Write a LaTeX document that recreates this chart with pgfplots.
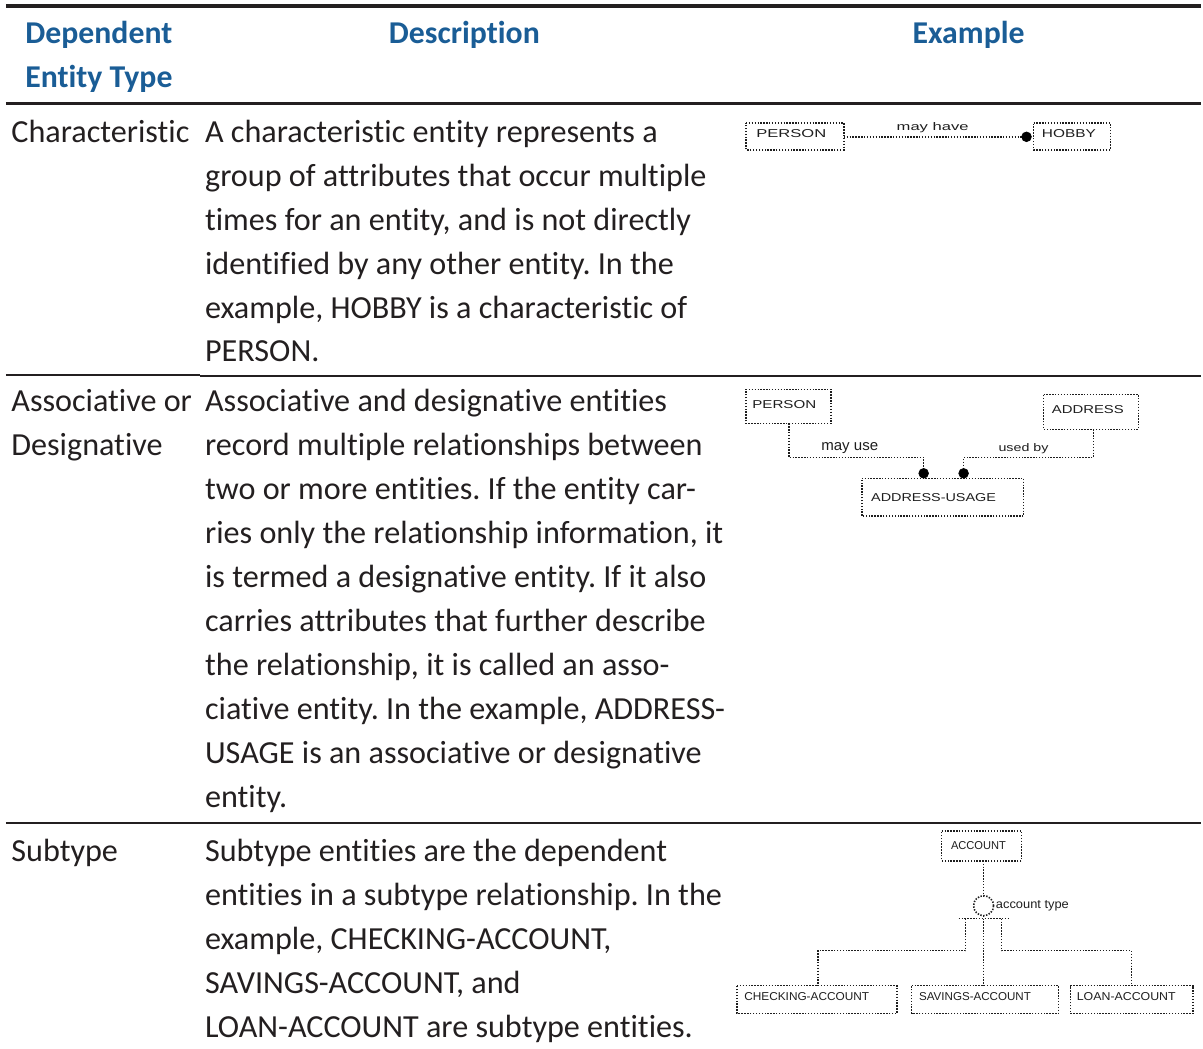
\documentclass[border=0pt]{standalone}
\usepackage{fontspec}
\setmainfont[Ligatures=NoCommon]{Carlito}
\newfontfamily\diag{Liberation Sans}
\usepackage{pgfplots}
\pgfplotsset{compat=1.18}
\definecolor{hdr}{RGB}{26,93,150}
\definecolor{txt}{RGB}{35,31,32}
\definecolor{dg}{RGB}{30,30,30}
\newcommand{\dt}[2]{\resizebox{#1pt}{4pt}{\diag #2}}
\frenchspacing
\tikzset{
  body/.style={anchor=base west,inner sep=0pt,text=txt,font=\fontsize{16.1}{22}\selectfont},
  head/.style={anchor=base,inner sep=0pt,text=hdr,font=\fontsize{15.9}{22}\selectfont\bfseries},
  dtx/.style={anchor=west,inner sep=0pt,text=dg},
  dtc/.style={anchor=center,inner sep=0pt,text=dg},
  dline/.style={dg,line width=0.8pt,dash pattern=on 0.7pt off 0.75pt},
  dot/.style={only marks,mark=*,mark size=2.4pt,black},
}
\begin{document}
\begin{tikzpicture}
\begin{axis}[width=601.5pt,height=525pt,scale only axis,
  xmin=0,xmax=1203,ymin=0,ymax=1050,y dir=reverse,hide axis,clip=false,
  every axis plot/.append style={forget plot},
]
\addplot[draw=none] coordinates {(0,0)(1203,1050)};
% rules
\addplot[txt,line width=1.75pt] coordinates {(6,6)(1203,6)};
\addplot[txt,line width=1.75pt] coordinates {(6,103.5)(1203,103.5)};
\addplot[txt,line width=0.75pt] coordinates {(6,375.5)(200,375.5)};
\addplot[txt,line width=0.75pt] coordinates {(200,376.5)(1203,376.5)};
\addplot[txt,line width=0.75pt] coordinates {(6,824)(1203,824)};
% header
\node[head] at (axis cs:99,44) {Dependent};
\node[head] at (axis cs:99,88) {Entity Type};
\node[head] at (axis cs:465,44) {Description};
\node[head] at (axis cs:970,44) {Example};
% row 1
\node[body] at (axis cs:11,142.5) {Characteristic};
\node[body] at (axis cs:205,142.5) {A characteristic entity represents a};
\node[body] at (axis cs:205,186.5) {group of attributes that occur multiple};
\node[body] at (axis cs:205,230.5) {times for an entity, and is not directly};
\node[body] at (axis cs:205,274.5) {identified by any other entity. In the};
\node[body] at (axis cs:205,318.5) {example, HOBBY is a characteristic of};
\node[body] at (axis cs:205,362.5) {PERSON.};
% row 2
\node[body] at (axis cs:11,412.5) {Associative or};
\node[body] at (axis cs:11,456.5) {Designative};
\node[body] at (axis cs:205,412.5) {Associative and designative entities};
\node[body] at (axis cs:205,456.5) {record multiple relationships between};
\node[body] at (axis cs:205,500.5) {two or more entities. If the entity car-};
\node[body] at (axis cs:205,544.5) {ries only the relationship information, it};
\node[body] at (axis cs:205,588.5) {is termed a designative entity. If it also};
\node[body] at (axis cs:205,632.5) {carries attributes that further describe};
\node[body] at (axis cs:205,676.5) {the relationship, it is called an asso-};
\node[body] at (axis cs:205,720.5) {ciative entity. In the example, ADDRESS-};
\node[body] at (axis cs:205,764.5) {USAGE is an associative or designative};
\node[body] at (axis cs:205,808.5) {entity.};
% row 3
\node[body] at (axis cs:11,862.5) {Subtype};
\node[body] at (axis cs:205,862.5) {Subtype entities are the dependent};
\node[body] at (axis cs:205,906.5) {entities in a subtype relationship. In the};
\node[body] at (axis cs:205,950.5) {example, CHECKING-ACCOUNT,};
\node[body] at (axis cs:205,994.5) {SAVINGS-ACCOUNT, and};
\node[body] at (axis cs:205,1038.5) {LOAN-ACCOUNT are subtype entities.};
% ---- diagram 1
\addplot[dline] coordinates {(747,123)(845,123)(845,150)(747,150)(747,123)};
\addplot[dline] coordinates {(1035,123)(1112,123)(1112,150)(1035,150)(1035,123)};
\addplot[dline] coordinates {(845,137)(1026,137)};
\addplot[dot] coordinates {(1028,137)};
\node[dtx] at (axis cs:757,134) {\dt{35}{PERSON}};
\node[dtx] at (axis cs:1043,134) {\dt{27}{HOBBY}};
\node[dtc] at (axis cs:934,128) {\dt{36}{may have}};
% ---- diagram 2
\addplot[dline] coordinates {(747,390)(832,390)(832,424)(747,424)(747,390)};
\addplot[dline] coordinates {(1045,395)(1140,395)(1140,430)(1045,430)(1045,395)};
\addplot[dline] coordinates {(863,479)(1025,479)(1025,517)(863,517)(863,479)};
\addplot[dline] coordinates {(790,424)(790,458)(925,458)(925,470)};
\addplot[dline] coordinates {(1095,430)(1095,458)(965,458)(965,470)};
\addplot[dot] coordinates {(925,474)(965,474)};
\node[dtx] at (axis cs:753,405) {\dt{32}{PERSON}};
\node[dtx] at (axis cs:1053,410) {\dt{36}{ADDRESS}};
\node[dtc] at (axis cs:851,449) {\dt{28.5}{may use}};
\node[dtc] at (axis cs:1025,449) {\dt{25}{used by}};
\node[dtx] at (axis cs:872,498) {\dt{62.5}{ADDRESS-USAGE}};
% ---- diagram 3
\addplot[dline] coordinates {(943,832)(1023,832)(1023,862)(943,862)(943,832)};
\addplot[dline] coordinates {(985,862)(985,897)};
\addplot[only marks,mark=o,mark size=5pt,mark options={dg,line width=0.8pt,dash pattern=on 0.7pt off 0.75pt}] coordinates {(985,907)};
\addplot[dline] coordinates {(960,920)(1010,920)};
\addplot[dline] coordinates {(967,920)(967,952)(819,952)(819,987)};
\addplot[dline] coordinates {(985,917)(985,987)};
\addplot[dline] coordinates {(1003,920)(1003,952)(1133,952)(1133,987)};
\addplot[dline] coordinates {(738,987)(898,987)(898,1015)(738,1015)(738,987)};
\addplot[dline] coordinates {(913,987)(1060,987)(1060,1015)(913,1015)(913,987)};
\addplot[dline] coordinates {(1072,987)(1195,987)(1195,1015)(1072,1015)(1072,987)};
\node[dtx] at (axis cs:952,847) {\dt{27.5}{ACCOUNT}};
\node[dtx] at (axis cs:997,907) {\dt{36.5}{account type}};
\node[dtx] at (axis cs:745,998) {\dt{62.5}{CHECKING-ACCOUNT}};
\node[dtx] at (axis cs:920,998) {\dt{56}{SAVINGS-ACCOUNT}};
\node[dtx] at (axis cs:1078,998) {\dt{49.5}{LOAN-ACCOUNT}};
\end{axis}
\end{tikzpicture}
\end{document}
